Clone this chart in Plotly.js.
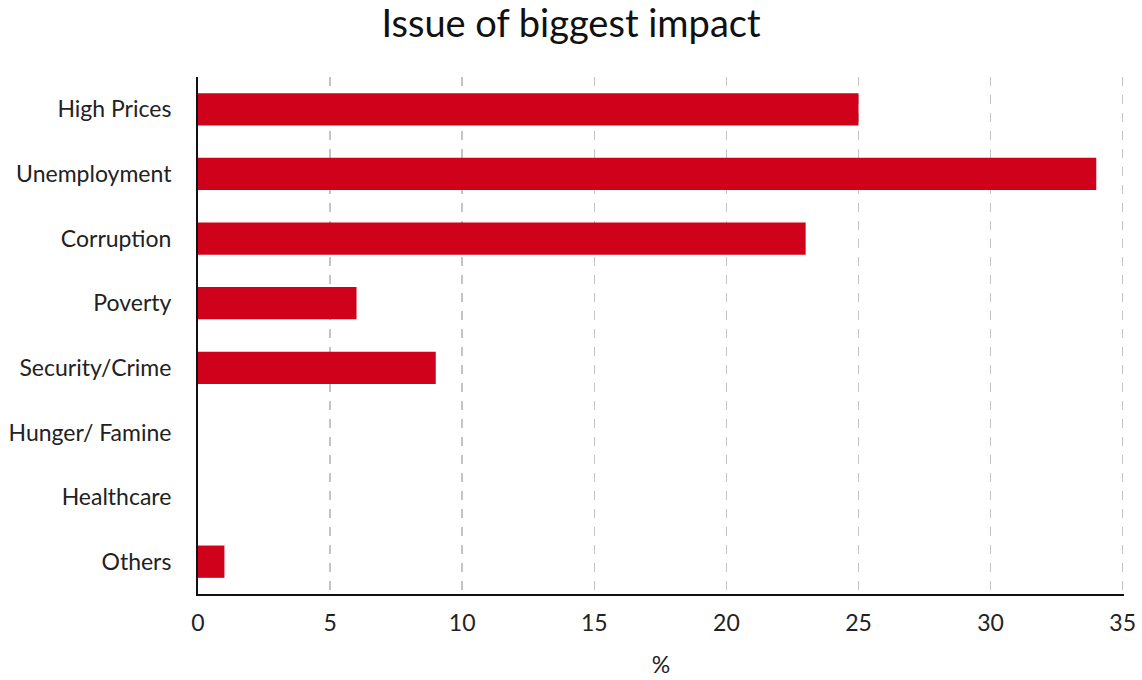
<!DOCTYPE html>
<html>
<head>
<meta charset="utf-8">
<script src="https://cdn.plot.ly/plotly-3.0.1.min.js"></script>
<style>html,body{margin:0;padding:0;background:#fff;}#chart{width:1142px;height:680px;}</style>
</head>
<body>
<div id="chart"></div>
<script>
var categories = ["High Prices", "Unemployment", "Corruption", "Poverty", "Security/Crime", "Hunger/ Famine", "Healthcare", "Others"];
var values = [25, 34, 23, 6, 9, 0, 0, 1];
var xTicks = [0, 5, 10, 15, 20, 25, 30, 35];

var trace = {
  type: "bar",
  orientation: "h",
  x: values,
  y: categories,
  width: 0.5,
  marker: {color: "#D0021B"},
  hoverinfo: "x+y"
};

var layout = {
  width: 1142,
  height: 680,
  margin: {l: 198, r: 18, t: 77, b: 86},
  paper_bgcolor: "#ffffff",
  plot_bgcolor: "#ffffff",
  font: {family: "Lato, sans-serif", color: "#222222", size: 23},
  title: {text: "Issue of biggest impact", font: {family: "Lato, sans-serif", size: 38, color: "#111111"}, x: 0.5, xanchor: "center", y: 0.965, yanchor: "middle"},
  xaxis: {
    range: [0, 35.05],
    tickvals: xTicks,
    ticktext: xTicks.map(String),
    showgrid: true,
    gridcolor: "#c4c4c4",
    griddash: "dash",
    gridwidth: 1.5,
    zeroline: false,
    showline: true,
    linecolor: "#111111",
    linewidth: 2,
    ticks: "",
    ticklen: 0,
    ticklabelstandoff: 7,
    tickfont: {size: 23, color: "#222222"},
    title: {text: "%", font: {size: 23, color: "#222222"}, standoff: 22}
  },
  yaxis: {
    autorange: "reversed",
    type: "category",
    showgrid: false,
    zeroline: false,
    showline: true,
    linecolor: "#111111",
    linewidth: 2,
    ticks: "",
    ticklabelstandoff: 20,
    tickfont: {size: 23, color: "#222222"}
  },
  showlegend: false,
  bargap: 0.5
};

Plotly.newPlot("chart", [trace], layout, {displayModeBar: false, staticPlot: true});
</script>
</body>
</html>
